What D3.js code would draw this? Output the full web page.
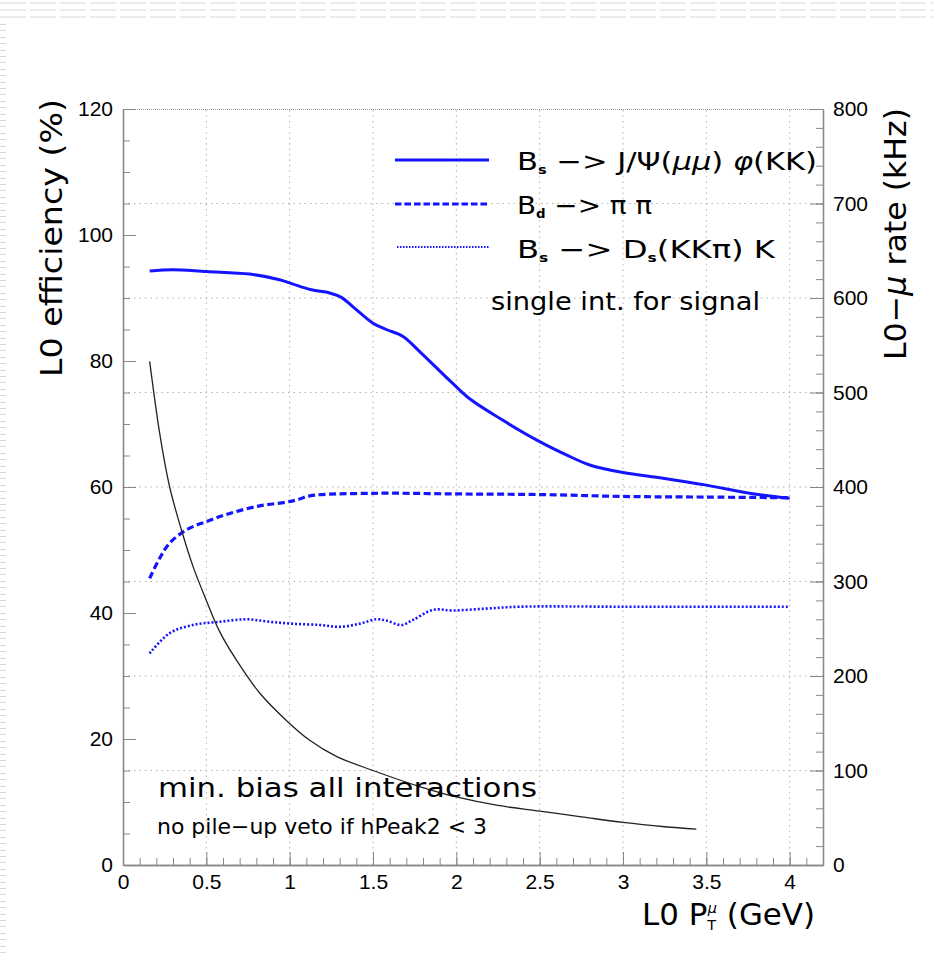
<!DOCTYPE html>
<html>
<head>
<meta charset="utf-8">
<script src="https://cdn.jsdelivr.net/npm/d3@7"></script>
<style>
body{margin:0;background:#fff}
svg{display:block}
</style>
</head>
<body>
<svg id="chart" width="933" height="953"></svg>
<script>
// values, x = L0 pT cut (GeV)
var ptJpsiPhi  = [0.16,0.30,0.50,0.76,0.94,1.02,1.13,1.24,1.31,1.38,1.50,1.58,1.68,1.78,1.98,2.08,2.26,2.50,2.66,2.80,3.00,3.24,3.50,3.76,4.00];
var effJpsiPhi = [94.3,94.5,94.2,93.8,92.9,92.2,91.3,90.8,90.1,88.6,86.0,85.0,83.9,81.5,76.4,74.0,70.9,67.2,65.1,63.5,62.3,61.4,60.3,59.0,58.2];

var ptPiPi  = [0.16,0.22,0.28,0.38,0.50,0.64,0.82,0.98,1.05,1.12,1.50,2.00,2.50,3.00,3.50,4.00];
var effPiPi = [45.5,48.7,51.1,53.2,54.5,55.8,57.0,57.6,58.0,58.6,59.0,58.9,58.8,58.5,58.4,58.3];

var ptDsK  = [0.16,0.28,0.42,0.58,0.74,0.88,1.02,1.18,1.30,1.42,1.52,1.58,1.67,1.74,1.86,1.98,2.18,2.38,3.00,4.00];
var effDsK = [33.6,36.8,38.1,38.6,39.0,38.6,38.3,38.1,37.8,38.3,39.0,38.8,38.1,38.9,40.5,40.4,40.7,41.0,41.0,41.0];

// min. bias rate (kHz), right axis
var ptRate = [0.16,0.22,0.28,0.35,0.42,0.50,0.58,0.68,0.82,0.98,1.12,1.28,1.50,1.78,2.00,2.25,2.50,2.75,3.00,3.25,3.44];
var rate   = [533,457,400,355,316,280,247,217,182,153,132,115,100,83,72,63,57,51,45,40.5,38];

var xTicks = [0,0.5,1,1.5,2,2.5,3,3.5,4];
var effTicks = [0,20,40,60,80,100,120];
var rateTicks = [0,100,200,300,400,500,600,700,800];

var svg = d3.select("#chart");
svg.append("rect").attr("width",933).attr("height",953).attr("fill","#fff");

// faint page border left over from the slide
[3,10,17].forEach(function(yy){
    svg.append("line").attr("x1",0).attr("x2",933).attr("y1",yy).attr("y2",yy)
        .attr("stroke","#d8d8d8").attr("stroke-width",1).attr("stroke-dasharray","26,4");
});
d3.range(24,953,6.4).forEach(function(yy){
    svg.append("line").attr("x1",0).attr("x2",6).attr("y1",Math.round(yy)+0.5).attr("y2",Math.round(yy)+0.5)
        .attr("stroke","#d8d8d8").attr("stroke-width",1);
});

var x = d3.scaleLinear().domain([0,4.2]).range([123,823]);
var yEff = d3.scaleLinear().domain([0,120]).range([865,109]);
var yRate = d3.scaleLinear().domain([0,800]).range([865,109]);

// grid
var grid = svg.append("g").attr("stroke","#b0b0b0").attr("stroke-width",1).attr("stroke-dasharray","1.5,4");
grid.selectAll("line.v").data(xTicks.filter(function(d){return d>0;})).enter().append("line")
    .attr("x1",function(d){return x(d);}).attr("x2",function(d){return x(d);})
    .attr("y1",yEff(0)).attr("y2",yEff(120));
grid.selectAll("line.h").data(rateTicks.filter(function(d){return d>0 && d<800;})).enter().append("line")
    .attr("x1",x(0)).attr("x2",x(4.2))
    .attr("y1",function(d){return yRate(d);}).attr("y2",function(d){return yRate(d);});

// top frame
svg.append("line").attr("x1",x(0)).attr("x2",x(4.2)).attr("y1",yEff(120)+0.5).attr("y2",yEff(120)+0.5)
    .attr("stroke","#999").attr("stroke-width",1).attr("stroke-dasharray","1,1");

function styleAxis(g){
    g.selectAll("path").attr("stroke","#888").attr("stroke-width",1.3);
    g.selectAll("line").attr("stroke","#888").attr("stroke-width",1);
    g.selectAll("text").attr("fill","#000").attr("font-family","'Liberation Sans', Arial, sans-serif").attr("font-size",21);
}
var fmt = function(d){ return String(d); };

// left axis
svg.append("g").attr("transform","translate(" + x(0) + ",0)")
    .call(d3.axisLeft(yEff).tickValues(d3.range(0,121,5)).tickSize(-7).tickSizeOuter(0).tickFormat(""))
    .call(styleAxis);
svg.append("g").attr("transform","translate(" + x(0) + ",0)")
    .call(d3.axisLeft(yEff).tickValues(effTicks).tickSize(-13).tickSizeOuter(0).tickPadding(10).tickFormat(fmt))
    .call(styleAxis);

// right axis
svg.append("g").attr("transform","translate(" + x(4.2) + ",0)")
    .call(d3.axisRight(yRate).tickValues(d3.range(0,801,20)).tickSize(-7).tickSizeOuter(0).tickFormat(""))
    .call(styleAxis);
svg.append("g").attr("transform","translate(" + x(4.2) + ",0)")
    .call(d3.axisRight(yRate).tickValues(rateTicks).tickSize(-13).tickSizeOuter(0).tickPadding(10).tickFormat(fmt))
    .call(styleAxis);

// bottom axis
svg.append("g").attr("transform","translate(0," + yEff(0) + ")")
    .call(d3.axisBottom(x).tickValues(d3.range(0,4.21,0.1)).tickSize(-7).tickSizeOuter(0).tickFormat(""))
    .call(styleAxis);
svg.append("g").attr("transform","translate(0," + yEff(0) + ")")
    .call(d3.axisBottom(x).tickValues(xTicks).tickSize(-13).tickSizeOuter(0).tickPadding(9).tickFormat(fmt))
    .call(styleAxis);

// curves
var blue = "#1414ff";
function effLine(xs, ys){
    return d3.line().curve(d3.curveCatmullRom.alpha(0.5))
        .x(function(d,i){return x(xs[i]);}).y(function(d,i){return yEff(ys[i]);})(xs);
}
svg.append("path").attr("d",effLine(ptJpsiPhi,effJpsiPhi)).attr("fill","none")
    .attr("stroke",blue).attr("stroke-width",3);
svg.append("path").attr("d",effLine(ptPiPi,effPiPi)).attr("fill","none")
    .attr("stroke",blue).attr("stroke-width",3.2).attr("stroke-dasharray","7,3.5");
svg.append("path").attr("d",effLine(ptDsK,effDsK)).attr("fill","none")
    .attr("stroke",blue).attr("stroke-width",2.6).attr("stroke-dasharray","2,2");

var rateLine = d3.line().curve(d3.curveCatmullRom.alpha(0.5))
    .x(function(d,i){return x(ptRate[i]);}).y(function(d,i){return yRate(rate[i]);});
svg.append("path").attr("d",rateLine(ptRate)).attr("fill","none")
    .attr("stroke","#222").attr("stroke-width",1.3);

// legend
var font = "'DejaVu Sans', Verdana, sans-serif";
var leg = svg.append("g");
leg.append("line").attr("x1",395).attr("x2",489).attr("y1",160).attr("y2",160)
    .attr("stroke",blue).attr("stroke-width",3);
leg.append("line").attr("x1",395).attr("x2",489).attr("y1",204).attr("y2",204)
    .attr("stroke",blue).attr("stroke-width",3).attr("stroke-dasharray","6.5,3");
leg.append("line").attr("x1",397).attr("x2",489).attr("y1",247).attr("y2",247)
    .attr("stroke",blue).attr("stroke-width",2).attr("stroke-dasharray","1.5,1.5");

function subText(yy, len, parts){
    var el = svg.append("text").attr("x",517).attr("y",yy).attr("font-family",font).attr("font-size",25)
        .attr("fill","#000").attr("textLength",len).attr("lengthAdjust","spacingAndGlyphs");
    parts.forEach(function(p){
        var ts = el.append("tspan").text(p.t);
        if(p.sub){ ts.attr("font-size",12).attr("font-weight","bold").attr("dy",4); }
        if(p.up){ ts.attr("dy",-4); }
        if(p.it){ ts.attr("font-style","italic"); }
    });
    return el;
}
subText(170, 300, [{t:"B"},{t:"s",sub:true},{t:" \u2212> J/\u03A8(",up:true},{t:"\u03BC\u03BC",it:true},{t:") "},{t:"\u03C6",it:true},{t:"(KK)"}]);
subText(214, 135, [{t:"B"},{t:"d",sub:true},{t:" \u2212> \u03C0 \u03C0",up:true}]);
subText(258, 258, [{t:"B"},{t:"s",sub:true},{t:" \u2212> D",up:true},{t:"s",sub:true},{t:"(KK\u03C0) K",up:true}]);

svg.append("text").attr("x",491).attr("y",310).attr("font-family",font).attr("font-size",25)
    .attr("textLength",269).attr("lengthAdjust","spacingAndGlyphs").text("single int. for signal");

svg.append("text").attr("x",158).attr("y",797).attr("font-family",font).attr("font-size",27)
    .attr("textLength",379).attr("lengthAdjust","spacingAndGlyphs").text("min. bias all interactions");
svg.append("text").attr("x",157).attr("y",834).attr("font-family",font).attr("font-size",21)
    .attr("textLength",330).attr("lengthAdjust","spacingAndGlyphs").text("no pile\u2212up veto if hPeak2 < 3");

// axis titles
var tl = svg.append("text").attr("transform","translate(62,99) rotate(-90)").attr("text-anchor","end")
    .attr("font-family",font).attr("font-size",31).attr("textLength",278).attr("lengthAdjust","spacingAndGlyphs");
tl.text("L0 efficiency (%)");

var tr = svg.append("text").attr("transform","translate(906,108) rotate(-90)").attr("text-anchor","end")
    .attr("font-family",font).attr("font-size",31).attr("textLength",252).attr("lengthAdjust","spacingAndGlyphs");
tr.append("tspan").text("L0\u2212");
tr.append("tspan").attr("font-style","italic").text("\u03BC");
tr.append("tspan").text(" rate (kHz)");

var tx = svg.append("text").attr("x",815).attr("y",925).attr("text-anchor","end")
    .attr("font-family",font).attr("font-size",30).attr("textLength",173).attr("lengthAdjust","spacingAndGlyphs");
tx.append("tspan").text("L0 P");
tx.append("tspan").attr("font-size",14).attr("dy",5).text("T");
tx.append("tspan").attr("font-size",14).attr("dy",-17).attr("dx",-8).attr("font-style","italic").text("\u03BC");
tx.append("tspan").attr("dy",12).text(" (GeV)");
</script>
</body>
</html>
